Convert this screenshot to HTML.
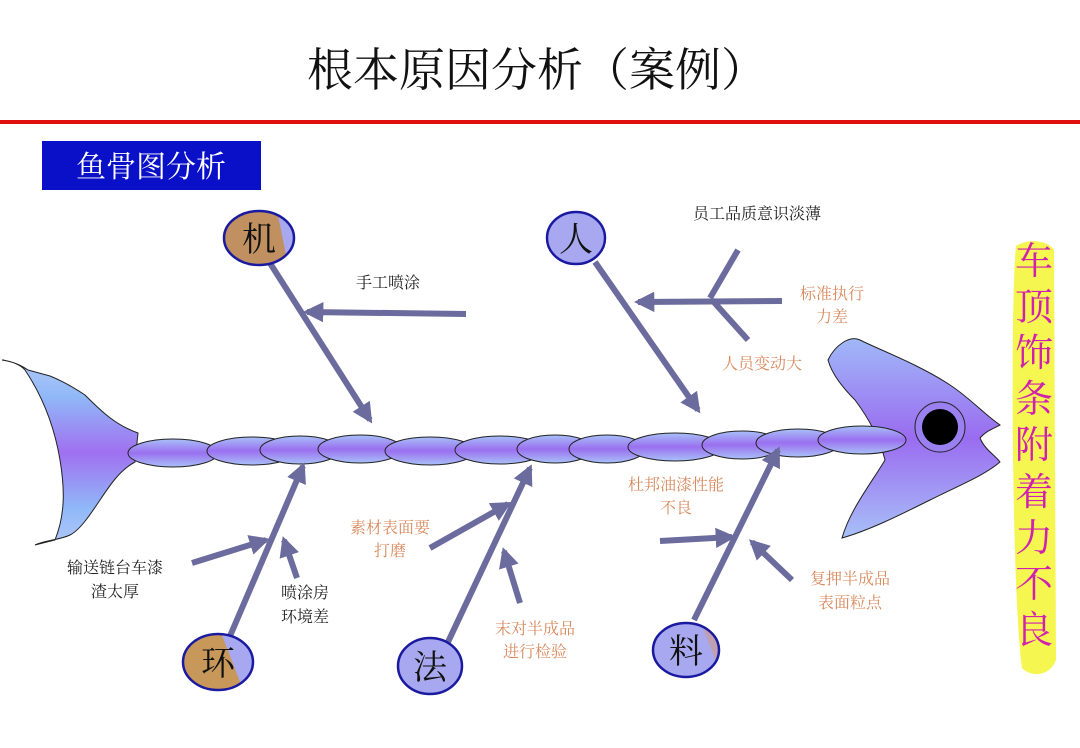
<!DOCTYPE html>
<html><head><meta charset="utf-8"><style>
body{margin:0;background:#fff;}
svg{display:block;}
text{font-family:"Liberation Serif","Noto Serif CJK SC",serif;}
</style></head><body>
<svg width="1080" height="748" viewBox="0 0 1080 748" xmlns="http://www.w3.org/2000/svg">
<defs>
<linearGradient id="g" x1="0" y1="0" x2="0" y2="1">
<stop offset="0" stop-color="#a8c0f8"/><stop offset="0.5" stop-color="#9a70f0"/><stop offset="1" stop-color="#a8c0f8"/></linearGradient>
<linearGradient id="gt" x1="0" y1="0" x2="0" y2="1">
<stop offset="0" stop-color="#b0c8f8"/><stop offset="0.2" stop-color="#90b8f8"/><stop offset="0.5" stop-color="#a070f0"/><stop offset="0.8" stop-color="#90b8f8"/><stop offset="1" stop-color="#b0c8f8"/></linearGradient>
<linearGradient id="ge" x1="0" y1="0" x2="0" y2="1">
<stop offset="0" stop-color="#a0b8f8"/><stop offset="0.5" stop-color="#9a6cf0"/><stop offset="1" stop-color="#a8c0f8"/></linearGradient>
<marker id="a" viewBox="0 0 10 10" refX="8" refY="5" markerWidth="3.4" markerHeight="3.4" orient="auto"><path d="M0,0 L10,5 L0,10 z" fill="#6b6b9e"/></marker>
<clipPath id="c1"><ellipse cx="259" cy="238" rx="35" ry="27"/></clipPath>
<clipPath id="c2"><ellipse cx="218" cy="662" rx="35" ry="28"/></clipPath>
<clipPath id="c3"><ellipse cx="430" cy="666" rx="32" ry="28"/></clipPath>
<clipPath id="c4"><ellipse cx="686" cy="650" rx="33" ry="27"/></clipPath>
</defs>
<rect width="1080" height="748" fill="#fff"/>
<text x="537" y="86" font-size="46" text-anchor="middle" fill="#111">根本原因分析（案例）</text>
<rect x="0" y="120" width="1080" height="4" fill="#e01010"/>
<rect x="42" y="141" width="219" height="49" fill="#0a10c8"/>
<text x="151" y="177" font-size="30" text-anchor="middle" fill="#fff">鱼骨图分析</text>
<!-- tail -->
<path d="M2,360 C15,362 22,366 28,370 L50,376 C60,380 70,385 85,395 C100,410 115,425 138,433 L135,462 C120,470 110,485 100,500 C90,515 80,530 70,535 C60,540 45,540 35,545 L55,540 C65,515 65,490 60,460 C55,430 45,400 25,370 C20,364 10,361 2,360 Z" fill="url(#gt)" stroke="#222" stroke-width="1"/>
<!-- head -->
<path d="M828,360 C835,345 850,335 860,340 C880,350 920,365 950,385 C970,398 985,415 1000,425 C990,430 985,432 980,438 C985,450 995,455 1000,462 C985,475 960,485 930,500 C900,515 870,530 842,538 C850,510 870,485 885,460 C880,440 870,420 855,400 C845,390 832,375 828,360 Z" fill="url(#ge)" stroke="#222" stroke-width="1"/>
<!-- spine ellipses -->
<g fill="url(#g)" stroke="#222" stroke-width="1">
<ellipse cx="173" cy="453" rx="45" ry="14"/>
<ellipse cx="252" cy="451" rx="45" ry="14"/>
<ellipse cx="300" cy="450" rx="40" ry="14"/>
<ellipse cx="360" cy="449" rx="42" ry="14"/>
<ellipse cx="430" cy="451" rx="45" ry="14"/>
<ellipse cx="500" cy="450" rx="45" ry="14"/>
<ellipse cx="555" cy="449" rx="38" ry="14"/>
<ellipse cx="607" cy="449" rx="38" ry="14"/>
<ellipse cx="675" cy="447" rx="47" ry="14"/>
<ellipse cx="742" cy="445" rx="40" ry="14"/>
<ellipse cx="798" cy="443" rx="42" ry="14"/>
<ellipse cx="862" cy="440" rx="44" ry="14"/>
</g>
<circle cx="940" cy="427" r="25" fill="#9a80f0" stroke="#222" stroke-width="1"/>
<circle cx="940" cy="427" r="18" fill="#000"/>
<!-- bones -->
<g stroke="#6b6b9e" stroke-width="6" fill="none" marker-end="url(#a)">
<line x1="268" y1="260" x2="370" y2="420"/>
<line x1="595" y1="262" x2="698" y2="410"/>
<line x1="230" y1="636" x2="303" y2="466"/>
<line x1="448" y1="642" x2="530" y2="468"/>
<line x1="694" y1="620" x2="778" y2="450"/>
<line x1="466" y1="314" x2="307" y2="312"/>
<line x1="782" y1="301" x2="638" y2="302"/>
<line x1="192" y1="563" x2="266" y2="540"/>
<line x1="297" y1="578" x2="284" y2="540"/>
<line x1="430" y1="548" x2="508" y2="504"/>
<line x1="520" y1="603" x2="504" y2="551"/>
<line x1="660" y1="541" x2="732" y2="537"/>
<line x1="792" y1="580" x2="752" y2="542"/>
</g>
<g stroke="#6b6b9e" stroke-width="6">
<line x1="738" y1="250" x2="710" y2="298"/>
<line x1="712" y1="300" x2="748" y2="340"/>
</g>
<!-- category circles -->
<g clip-path="url(#c1)"><rect x="220" y="205" width="80" height="70" fill="#c09060"/><path d="M276,205 L300,205 L300,275 L290,275 Z" fill="#a8a8f0"/></g>
<g clip-path="url(#c2)"><rect x="180" y="630" width="80" height="70" fill="#c8985a"/><path d="M220,630 L260,630 L260,700 L247,700 Z" fill="#a8a8f0"/></g>
<g clip-path="url(#c3)"><rect x="395" y="635" width="75" height="65" fill="#a8a8f0"/><path d="M395,672 L420,700 L395,700 Z" fill="#c8985a"/></g>
<g clip-path="url(#c4)"><rect x="650" y="620" width="75" height="65" fill="#a8a8f0"/><path d="M700,620 L725,620 L725,685 Z" fill="#c0a0b0"/></g>
<g stroke="#1a1aa0" stroke-width="2.5" fill="none">
<ellipse cx="259" cy="238" rx="35" ry="27"/>
<ellipse cx="576" cy="238" rx="29" ry="26" fill="#a8a8f0"/>
<ellipse cx="218" cy="662" rx="35" ry="28"/>
<ellipse cx="430" cy="666" rx="32" ry="28"/>
<ellipse cx="686" cy="650" rx="33" ry="27"/>
</g>
<g font-size="34" text-anchor="middle" fill="#111">
<text x="259" y="251">机</text><text x="576" y="251">人</text>
<text x="218" y="675">环</text><text x="430" y="679">法</text><text x="686" y="663">料</text>
</g>
<!-- labels -->
<g font-size="16" text-anchor="middle" fill="#222">
<text x="757" y="219">员工品质意识淡薄</text>
<text x="388" y="288">手工喷涂</text>
<text x="115" y="573">输送链台车漆</text><text x="115" y="597">渣太厚</text>
<text x="305" y="598">喷涂房</text><text x="305" y="622">环境差</text>
</g>
<g font-size="16" text-anchor="middle" fill="#d88a5e">
<text x="832" y="299">标准执行</text><text x="832" y="322">力差</text>
<text x="762" y="369">人员变动大</text>
<text x="676" y="490">杜邦油漆性能</text><text x="676" y="513">不良</text>
<text x="390" y="533">素材表面要</text><text x="390" y="556">打磨</text>
<text x="535" y="634">末对半成品</text><text x="535" y="657">进行检验</text>
<text x="850" y="584">复押半成品</text><text x="850" y="608">表面粒点</text>
</g>
<!-- right strip -->
<path d="M1016,246 C1028,238 1048,240 1054,250 L1056,660 C1050,676 1032,678 1022,668 C1012,600 1010,300 1016,246 Z" fill="#f6f650"/>
<g font-size="38" text-anchor="middle" fill="#d020b0">
<text x="1034" y="274">车</text><text x="1034" y="320">顶</text><text x="1034" y="366">饰</text>
<text x="1034" y="412">条</text><text x="1034" y="458">附</text><text x="1034" y="505">着</text>
<text x="1034" y="551">力</text><text x="1034" y="597">不</text><text x="1034" y="643">良</text>
</g>
</svg>
</body></html>
